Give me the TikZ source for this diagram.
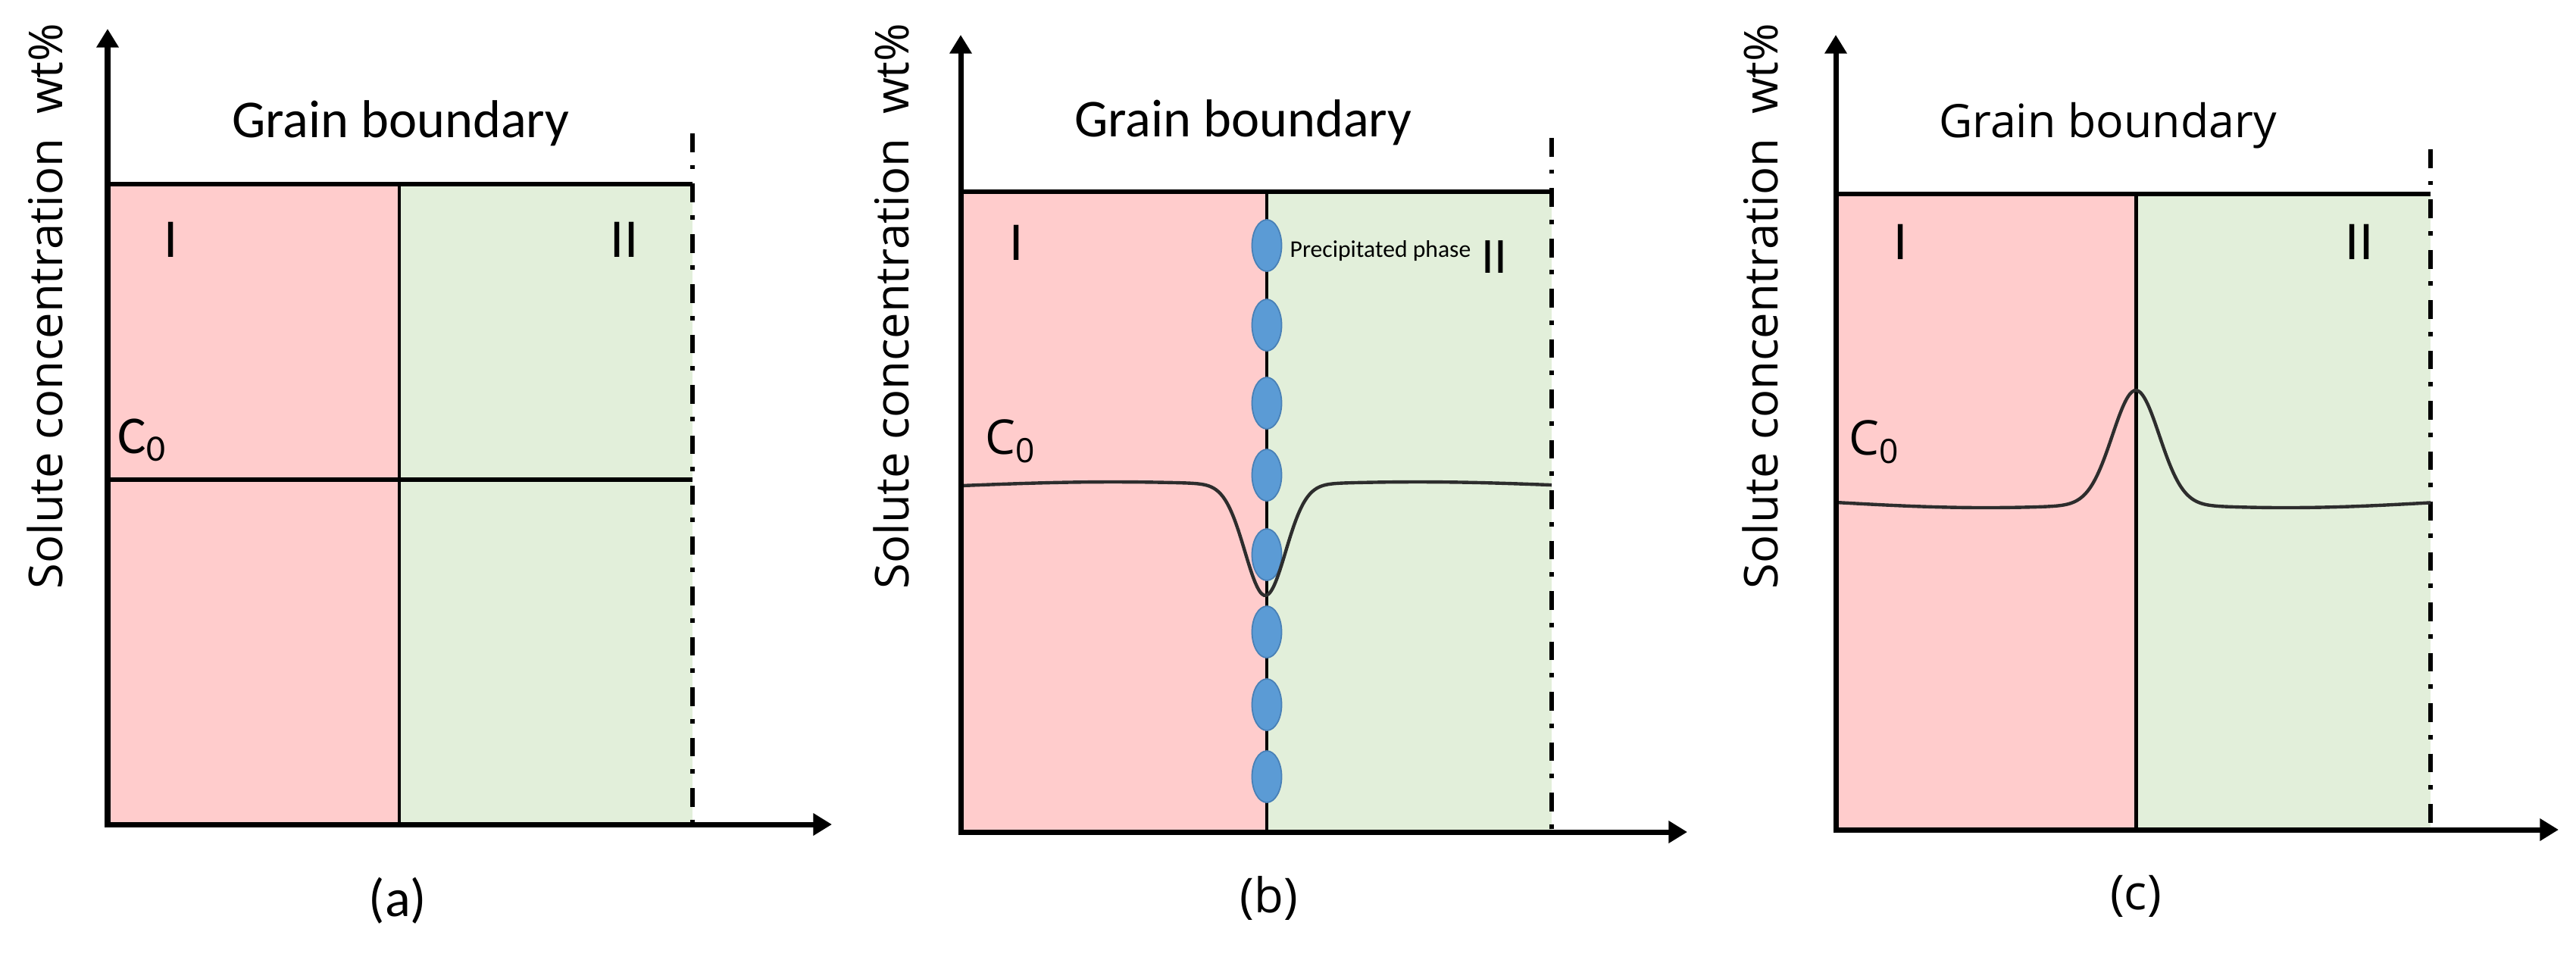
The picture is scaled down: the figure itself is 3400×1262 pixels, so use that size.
\documentclass[tikz,border=0pt]{standalone}
\usepackage{fontspec}
\setmainfont{Open Sans}
\newfontfamily\cb{Carlito}
\usetikzlibrary{arrows.meta,shapes.geometric}
\definecolor{pinkf}{RGB}{255,204,204}
\definecolor{greenf}{RGB}{226,239,218}
\definecolor{pptf}{RGB}{91,155,213}
\definecolor{ppte}{RGB}{72,128,182}
\definecolor{curvec}{RGB}{45,45,45}
\begin{document}
\begin{tikzpicture}[x=0.01cm,y=-0.01cm,
  axes/.style={line width=2pt,{Triangle[length=7pt,width=8pt]}-{Triangle[length=7pt,width=8pt]}},
  bline/.style={line width=1.5pt},
  gbline/.style={line width=1.4pt},
  ddline/.style={line width=1.6pt,dash pattern=on 7pt off 4.8pt on 1.7pt off 5.4pt},
  conc/.style={line width=1.25pt,draw=curvec},
  ylab/.style={rotate=90,inner sep=0pt,font=\fontsize{17.5}{20}\selectfont},
  gbcb/.style={anchor=base,inner sep=0pt,font=\cb\fontsize{20}{24}\selectfont},
  gbos/.style={anchor=base,inner sep=0pt,font=\fontsize{17.3}{20}\selectfont},
  roman/.style={anchor=base,inner sep=0pt,font=\cb\fontsize{20.5}{24}\selectfont},
  czcb/.style={anchor=base west,inner sep=0pt,font=\cb\fontsize{20}{24}\selectfont},
  czos/.style={anchor=base west,inner sep=0pt,font=\fontsize{18}{22}\selectfont},
  capcb/.style={inner sep=0pt,font=\cb\fontsize{20}{24}\selectfont},
  capos/.style={inner sep=0pt,font=\fontsize{18}{22}\selectfont},
  pptnode/.style={ellipse,fill=pptf,draw=ppte,line width=0.5pt,minimum width=0.39cm,minimum height=0.68cm,inner sep=0pt},
  ppttext/.style={anchor=base west,inner sep=0pt,font=\cb\fontsize{9}{11}\selectfont}
]
\useasboundingbox (0,0) rectangle (3400,1262);

% ---------------- panel (a)
\fill[pinkf] (142,243) rectangle (527,1088);
\fill[greenf] (527,243) rectangle (914,1088);
\coordinate (aTL) at (142,243);
\coordinate (aTR) at (914,243);
\coordinate (aCL) at (142,633);
\coordinate (aCR) at (914,633);
\coordinate (aGT) at (527,243);
\coordinate (aGB) at (527,1088);
\coordinate (aDT) at (914,176);
\coordinate (aDB) at (914,1088);
\coordinate (aO) at (142,1088);
\coordinate (aY) at (142,38);
\coordinate (aX) at (1098,1088);
\draw[bline] (aTL) -- (aTR);
\draw[bline] (aCL) -- (aCR);
\draw[gbline] (aGT) -- (aGB);
\draw[ddline] (aDT) -- (aDB);
\draw[axes] (aY) -- (aO) -- (aX);
\node[ylab] (aylab) at (59,404) {Solute concentration\ \ wt\%};
\node[gbcb] (agb) at (529,181) {Grain boundary};
\node[roman] (aI) at (226,339) {I};
\node[roman] (aII) at (824,339) {II};
\node[czcb] (aC) at (155,598) {C\textsubscript{0}};
\node[capcb] (acap) at (525,1189) {(a)};

% ---------------- panel (b)
\fill[pinkf] (1268,253) rectangle (1672,1098);
\fill[greenf] (1672,253) rectangle (2048,1098);
\coordinate (bTL) at (1268,253);
\coordinate (bTR) at (2048,253);
\coordinate (bGT) at (1672,253);
\coordinate (bGB) at (1672,1098);
\coordinate (bDT) at (2048,182);
\coordinate (bDB) at (2048,1098);
\coordinate (bO) at (1268,1098);
\coordinate (bY) at (1268,46);
\coordinate (bX) at (2227,1098);
\draw[bline] (bTL) -- (bTR);
\draw[gbline] (bGT) -- (bGB);
\draw[ddline] (bDT) -- (bDB);
\foreach \yy [count=\i] in {324,429,532,627,732,834,930,1025}
  \node[pptnode] (p\i) at (1672,\yy) {};
\draw[conc] plot[domain=1268:2048,samples=260,smooth]
  (\x,{641-5*sin(180*min(abs(\x-1670)/402,1))+145*exp(-min(((\x-1670)/38)^2,20))});
\draw[axes] (bY) -- (bO) -- (bX);
\node[ylab] (bylab) at (1176,404) {Solute concentration\ \ wt\%};
\node[gbcb] (bgb) at (1641,180) {Grain boundary};
\node[roman] (bI) at (1342,343) {I};
\node[roman,font=\cb\fontsize{19}{22}\selectfont] (bII) at (1972,360) {II};
\node[ppttext] (bppt) at (1702,339) {Precipitated phase};
\node[czos] (bC) at (1300,599) {C\textsubscript{0}};
\node[capos] (bcap) at (1675,1185) {(b)};

% ---------------- panel (c)
\fill[pinkf] (2423,256) rectangle (2819,1095);
\fill[greenf] (2819,256) rectangle (3208,1095);
\coordinate (cTL) at (2423,256);
\coordinate (cTR) at (3208,256);
\coordinate (cGT) at (2819,256);
\coordinate (cGB) at (2819,1095);
\coordinate (cDT) at (3208,197);
\coordinate (cDB) at (3208,1095);
\coordinate (cO) at (2423,1095);
\coordinate (cY) at (2423,46);
\coordinate (cX) at (3377,1095);
\draw[bline] (cTL) -- (cTR);
\draw[gbline] (cGT) -- (cGB);
\draw[ddline] (cDT) -- (cDB);
\draw[conc] plot[domain=2423:3208,samples=260,smooth]
  (\x,{663+7*sin(180*min(abs(\x-2819)/396,1))-148*exp(-min(((\x-2819)/44)^2,20))});
\draw[axes] (cY) -- (cO) -- (cX);
\node[ylab] (cylab) at (2323,404) {Solute concentration\ \ wt\%};
\node[gbos] (cgb) at (2782,181) {Grain boundary};
\node[roman] (cI) at (2509,342) {I};
\node[roman] (cII) at (3114,342) {II};
\node[czos] (cC) at (2440,600) {C\textsubscript{0}};
\node[capos] (ccap) at (2819,1183) {(c)};
\end{tikzpicture}
\end{document}
